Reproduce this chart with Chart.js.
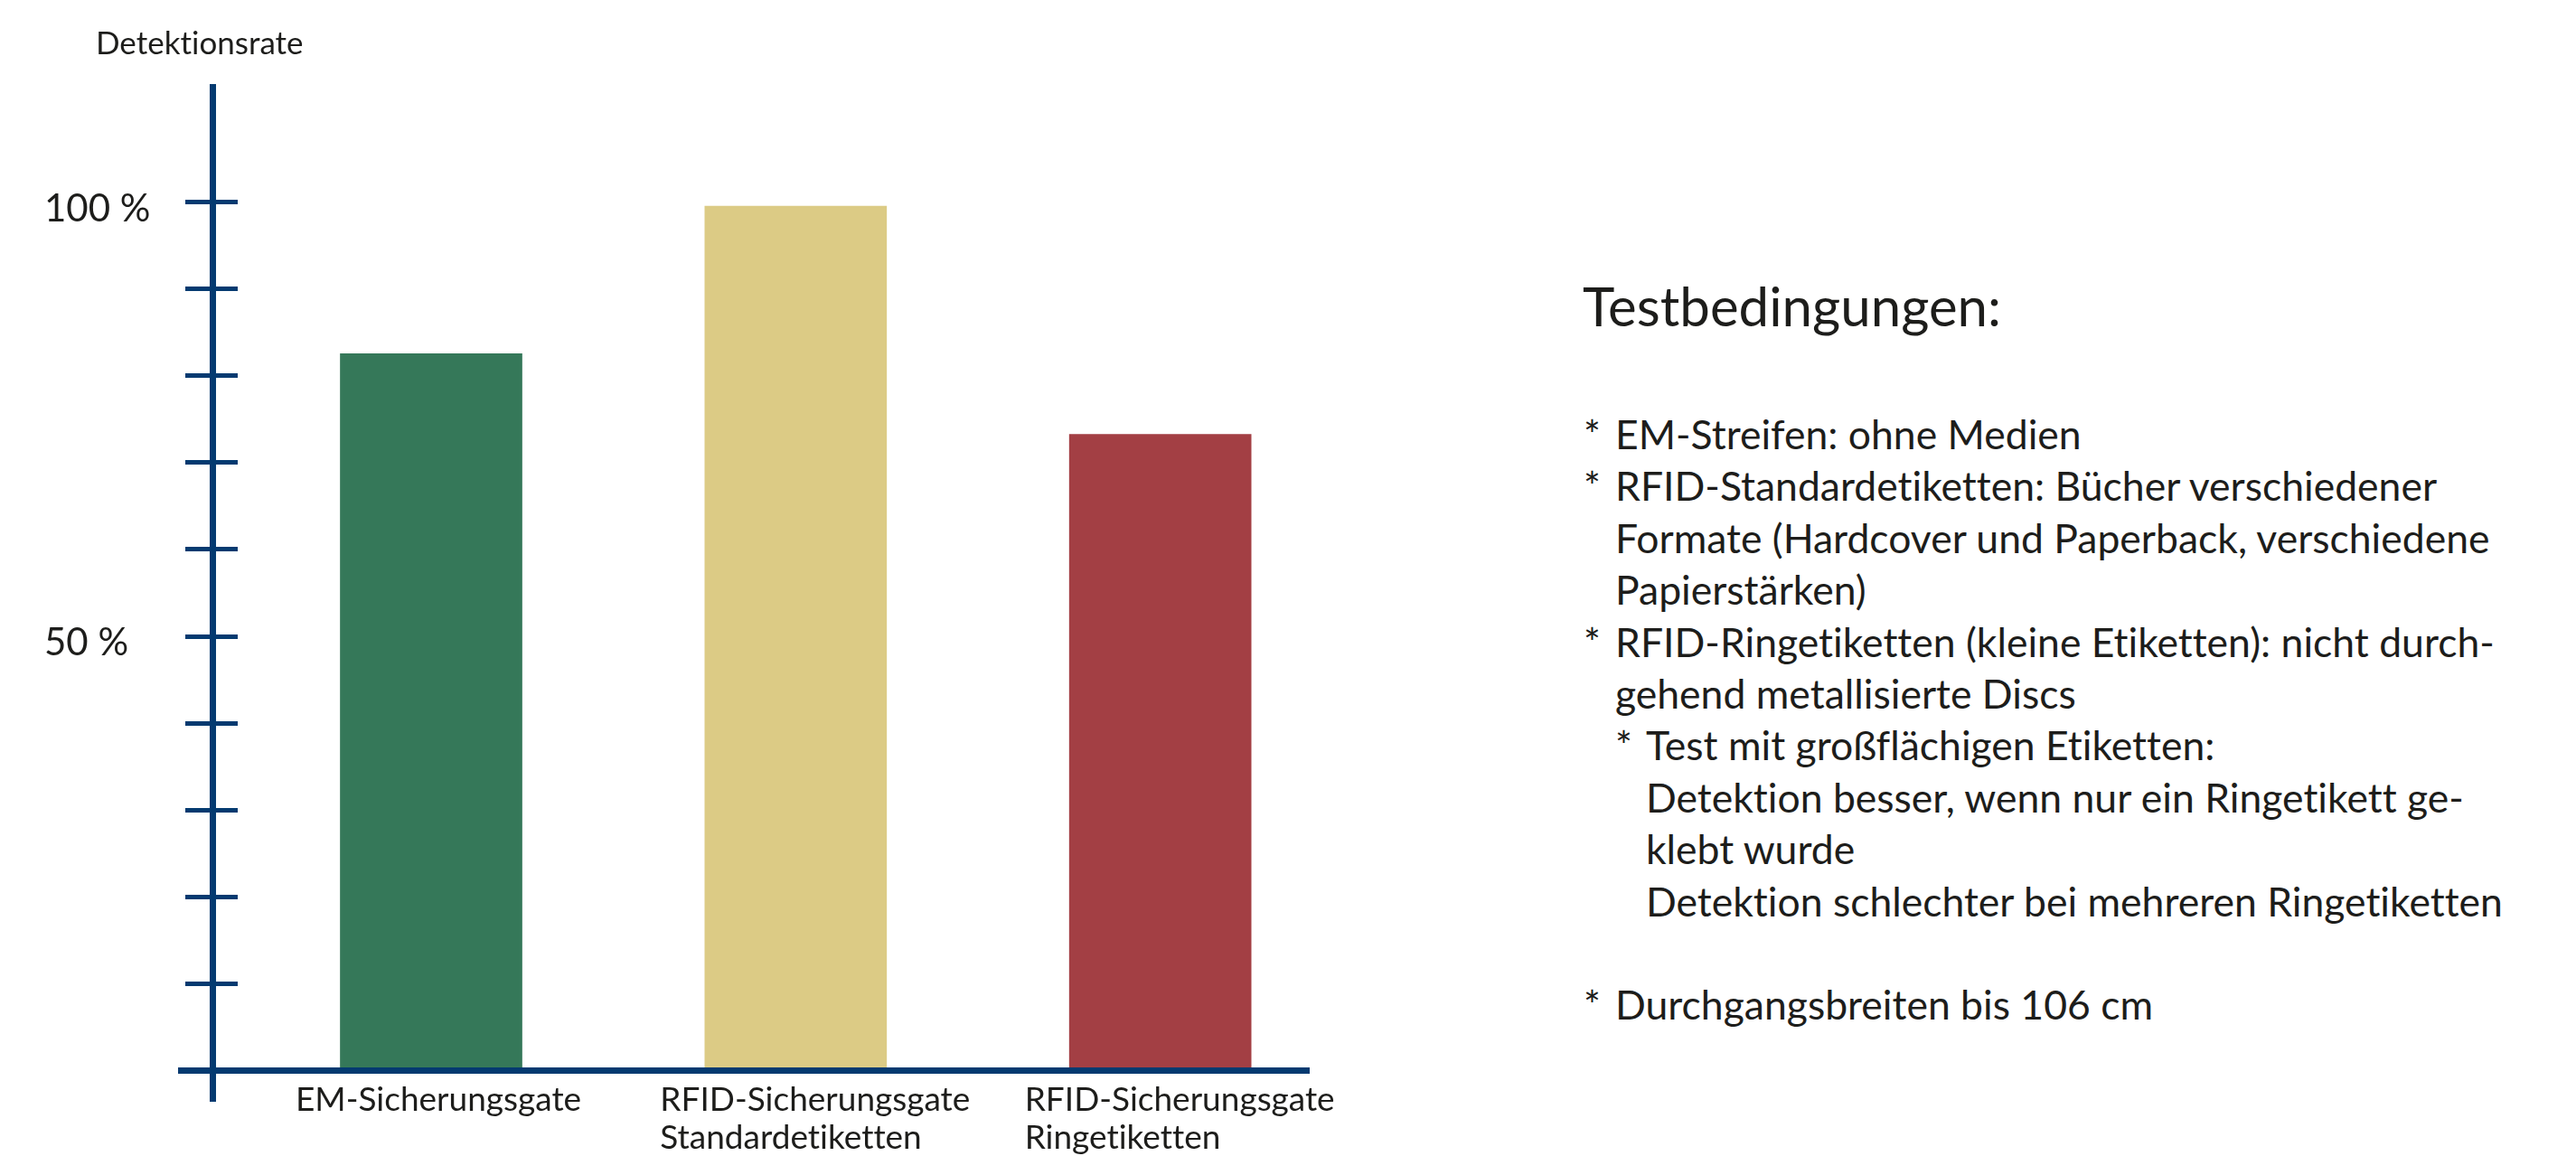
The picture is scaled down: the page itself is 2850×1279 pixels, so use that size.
<!DOCTYPE html>
<html lang="de">
<head>
<meta charset="utf-8">
<title>Detektionsrate</title>
<script src="https://cdn.jsdelivr.net/npm/chart.js@4.4.1/dist/chart.umd.min.js"></script>
<style>
  html, body { margin: 0; padding: 0; background: #fff; }
  body { width: 2850px; height: 1279px; position: relative; overflow: hidden;
         font-family: Lato, 'Open Sans', sans-serif; color: #1d1d1b;
         font-variant-ligatures: no-common-ligatures; }
  #chart-wrap { position: absolute; left: 0; top: 0; width: 1600px; height: 1279px; }
  #y-title { position: absolute; left: 106px; top: 25px; font-size: 35px; line-height: 42px; white-space: nowrap; }
  #notes-title { position: absolute; left: 1751px; top: 302px; margin: 0; font-weight: 400;
                 font-size: 60px; line-height: 72px; white-space: nowrap; }
  #notes { position: absolute; left: 1752px; top: 451px; font-size: 44.5px; line-height: 57.4px; }
  #notes .row { display: flex; white-space: nowrap; height: 57.4px; }
  #notes .m1 { width: 35px; flex: none; }
  #notes .m2 { width: 34px; flex: none; }
</style>
</head>
<body>
<div id="chart-wrap"><canvas id="chart"></canvas></div>
<div id="y-title">Detektionsrate</div>
<h2 id="notes-title">Testbedingungen:</h2>
<div id="notes"></div>

<script>
// chart data
var categories = [
  ['EM-Sicherungsgate'],
  ['RFID-Sicherungsgate', 'Standardetiketten'],
  ['RFID-Sicherungsgate', 'Ringetiketten']
];
var detectionRates = [82.6, 99.6, 73.3];
var barColors = ['#357859', '#dccb85', '#a33f44'];
var yTickValues = [10, 20, 30, 40, 50, 60, 70, 80, 90, 100];
var yTickLabels = ['', '', '', '', '50 %', '', '', '', '', '100 %'];

// side notes: [indent level, marker, text]
var noteLines = [
  [0, '*', 'EM-Streifen: ohne Medien'],
  [0, '*', 'RFID-Standardetiketten: Bücher verschiedener'],
  [0, '', 'Formate (Hardcover und Paperback, verschiedene'],
  [0, '', 'Papierstärken)'],
  [0, '*', 'RFID-Ringetiketten (kleine Etiketten): nicht durch-'],
  [0, '', 'gehend metallisierte Discs'],
  [1, '*', 'Test mit großflächigen Etiketten:'],
  [1, '', 'Detektion besser, wenn nur ein Ringetikett ge-'],
  [1, '', 'klebt wurde'],
  [1, '', 'Detektion schlechter bei mehreren Ringetiketten'],
  null,
  [0, '*', 'Durchgangsbreiten bis 106 cm']
];

var NAVY = '#043a70';
var TEXT = '#1d1d1b';

var h = '';
noteLines.forEach(function(l) {
  if (!l) { h += '<div class="row"></div>'; return; }
  h += '<div class="row">' +
    (l[0] === 1 ? '<span class="m1"></span><span class="m2">' + l[1] + '</span>' : '<span class="m1">' + l[1] + '</span>') +
    '<span>' + l[2] + '</span></div>';
});
document.getElementById('notes').innerHTML = h;

function alignPx(v, w) {
  return Math.round(v - w / 2) + w / 2;
}

// inner half of the y tick marks + x axis running past the y axis
var axisCross = {
  id: 'axisCross',
  afterDraw: function(chart, args, opts) {
    var ctx = chart.ctx, area = chart.chartArea, y = chart.scales.y;
    ctx.save();
    ctx.strokeStyle = opts.color;
    ctx.lineWidth = opts.tickWidth;
    y.ticks.forEach(function(t) {
      var py = alignPx(y.getPixelForValue(t.value), opts.tickWidth);
      ctx.beginPath();
      ctx.moveTo(area.left, py);
      ctx.lineTo(area.left + opts.inner, py);
      ctx.stroke();
    });
    var y0 = alignPx(y.getPixelForValue(0), opts.axisWidth);
    ctx.lineWidth = opts.axisWidth;
    ctx.beginPath();
    ctx.moveTo(area.left - opts.overhang, y0);
    ctx.lineTo(area.left, y0);
    ctx.stroke();
    ctx.restore();
  }
};

Chart.defaults.font.family = "Lato, 'Open Sans', sans-serif";
Chart.defaults.color = TEXT;

new Chart(document.getElementById('chart'), {
  type: 'bar',
  data: {
    datasets: [{
      label: 'Detektionsrate',
      data: detectionRates.map(function(v, i) { return { x: i, y: v }; }),
      backgroundColor: barColors,
      borderWidth: 0,
      categoryPercentage: 1,
      barPercentage: 0.5
    }]
  },
  options: {
    responsive: true,
    maintainAspectRatio: false,
    animation: false,
    devicePixelRatio: 1,
    layout: { padding: { left: 49, top: 96, right: 155, bottom: 63 } },
    plugins: {
      legend: { display: false },
      tooltip: { enabled: false },
      axisCross: { color: NAVY, tickWidth: 5, inner: 28, axisWidth: 7, overhang: 38 }
    },
    scales: {
      x: {
        type: 'linear',
        min: -0.6,
        max: 2.4,
        offset: false,
        position: { y: 0 },
        grid: { display: true, offset: false, drawOnChartArea: false, drawTicks: false, lineWidth: 7, color: NAVY },
        border: { display: true, color: NAVY, width: 7, z: 1 },
        afterBuildTicks: function(s) { s.ticks = categories.map(function(c, i) { return { value: i }; }); },
        afterFit: function(s) { s.height = 0; s.paddingLeft = 0; s.paddingRight = 0; },
        ticks: {
          autoSkip: false, maxRotation: 0, minRotation: 0,
          align: 'start', labelOffset: -150, padding: 12,
          color: TEXT, font: { size: 37, lineHeight: 1.14 },
          callback: function(v) { return categories[v]; }
        }
      },
      y: {
        min: -3.33,
        max: 113.33,
        afterBuildTicks: function(s) { s.ticks = yTickValues.map(function(v) { return { value: v }; }); },
        afterFit: function(s) { s.width = 186; s.paddingTop = 0; s.paddingBottom = 0; },
        grid: { drawOnChartArea: false, drawTicks: true, tickLength: 30, tickWidth: 5, tickColor: NAVY, color: NAVY, lineWidth: 5 },
        border: { color: NAVY, width: 7 },
        ticks: {
          crossAlign: 'far', labelOffset: 7,
          color: TEXT, font: { size: 42 },
          callback: function(v) { return yTickLabels[yTickValues.indexOf(v)]; }
        }
      }
    }
  },
  plugins: [axisCross]
});
</script>
</body>
</html>
